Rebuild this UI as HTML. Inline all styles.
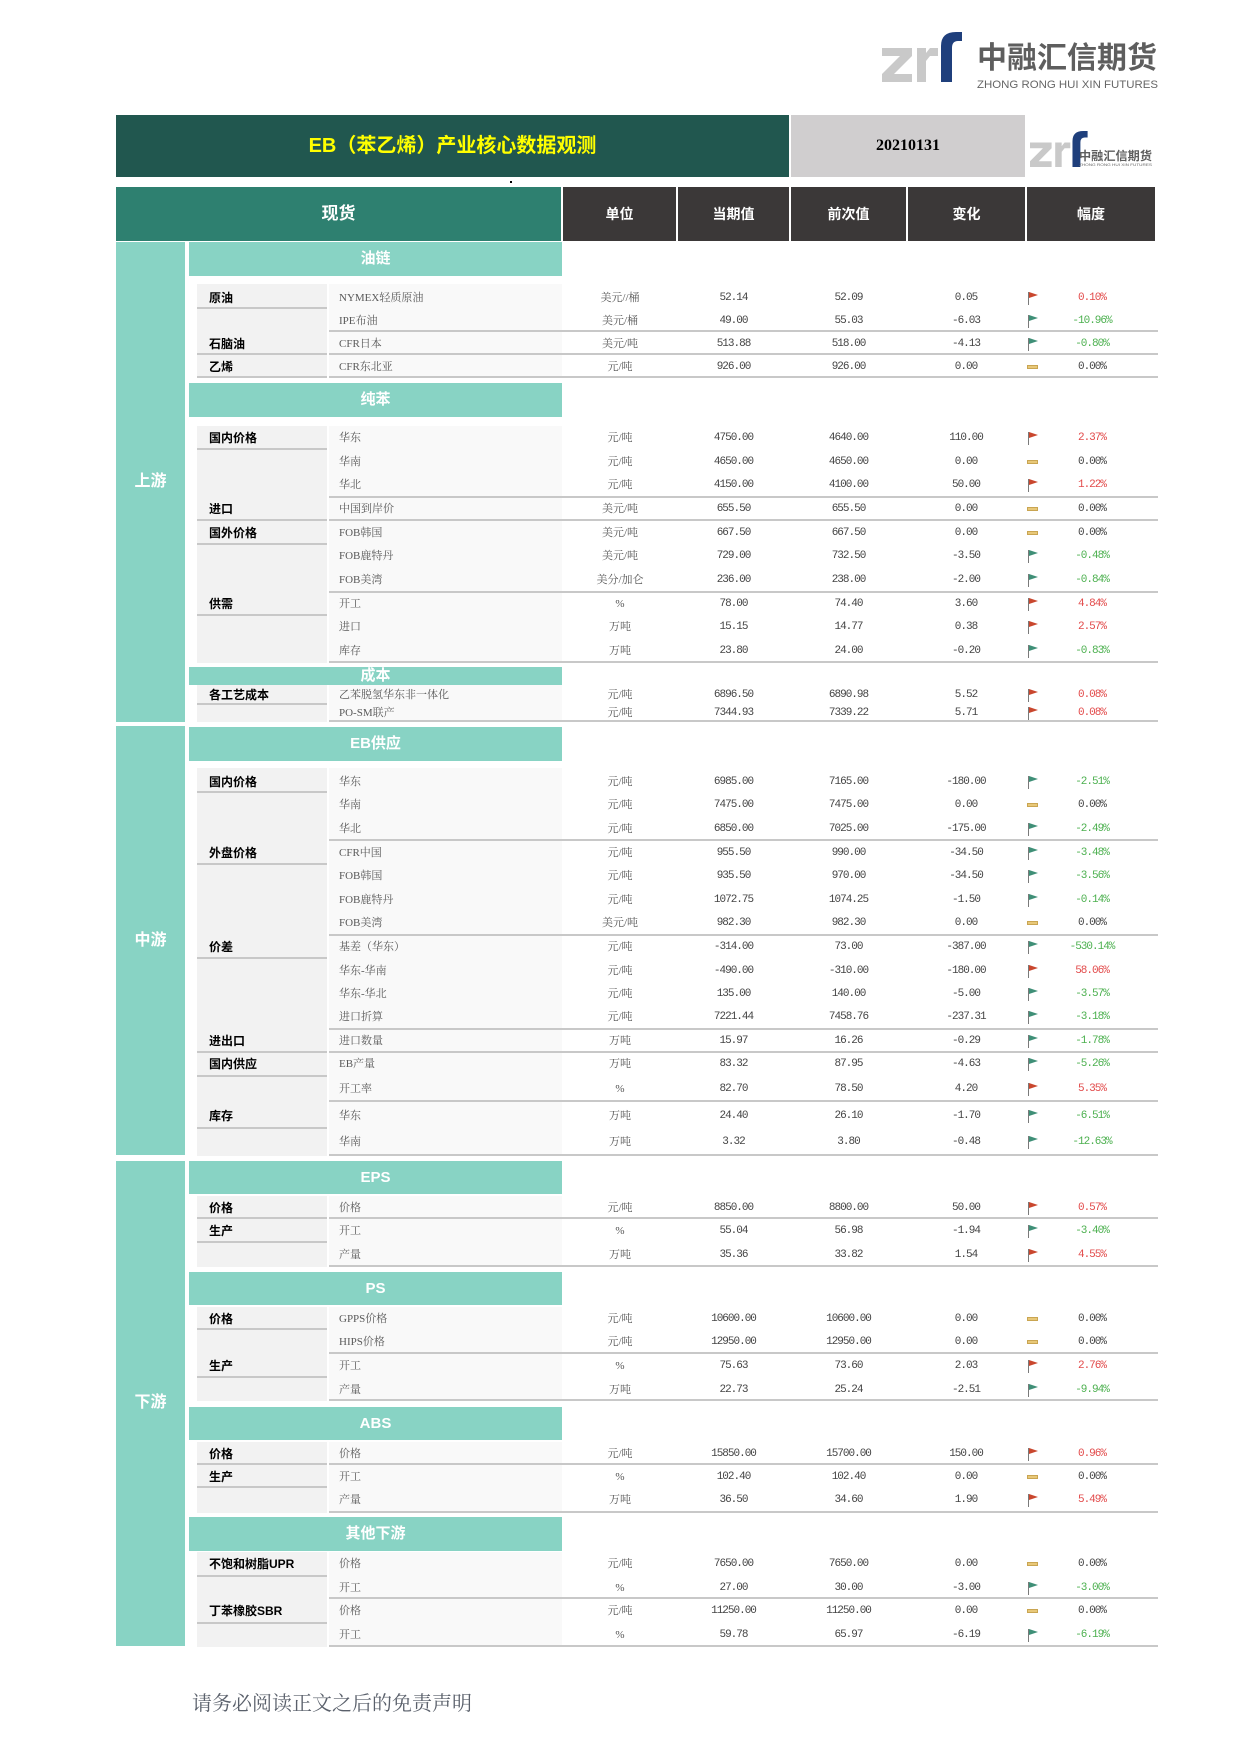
<!DOCTYPE html>
<html><head><meta charset="utf-8">
<style>
*{margin:0;padding:0;box-sizing:border-box}
body{width:1240px;height:1753px;position:relative;background:#fff;overflow:hidden;font-family:"Liberation Serif","Noto Serif CJK SC",serif}
.a{position:absolute}
.r{position:absolute;left:0;width:1240px;height:24px;line-height:24px;font-size:11px;white-space:nowrap}
.r b{position:absolute;font-weight:normal;top:0}
.it{left:339px;color:#595959}
.u{left:564px;width:112px;text-align:center;color:#555}
.c,.p,.d,.pc{font-family:"Liberation Mono","Noto Serif CJK SC",monospace;letter-spacing:-1px;text-align:center;color:#444}
.c{left:677px;width:113px}
.p{left:791px;width:115px}
.d{left:907px;width:118px}
.pc{left:1040px;width:104px}
.r b.pc.up{color:#e24a4a}.r b.pc.dn{color:#4cb04f}
i{position:absolute;left:1028px;top:6px;width:11px;height:13px}
i.up::before,i.dn::before{content:"";position:absolute;left:0;top:0;width:1px;height:13px;background:#7a7a7a}
i.up::after,i.dn::after{content:"";position:absolute;left:1px;top:0;border-left:9px solid #c9472e;border-top:3.5px solid transparent;border-bottom:3.5px solid transparent}
i.dn::after{border-left-color:#3f8f77}
i.z{left:1027px;top:10px;width:11px;height:4px;background:#e8c879;border:1px solid #c9a552}
.g{position:absolute;left:209px;height:24px;line-height:24px;font-size:12px;font-weight:bold;font-family:"Liberation Sans","Noto Sans CJK SC",sans-serif;color:#000;white-space:nowrap}
.gl{position:absolute;left:197px;width:130px;height:2px;background:#c8c8c8}
.dl{position:absolute;left:329px;width:829px;height:2px;background:#c8c8c8}
.gb{position:absolute;left:197px;width:130px;background:#f2f2f2}
.ib{position:absolute;left:329px;width:233px;background:#f9f9f9}
.sh{position:absolute;left:189px;width:373px;background:#88d3c4;color:#fff;font-weight:bold;font-size:15px;text-align:center;font-family:"Liberation Sans","Noto Sans CJK SC",sans-serif}
.bd{position:absolute;left:116px;width:69px;background:#88d3c4}
.bl{position:absolute;left:116px;width:69px;height:24px;line-height:24px;color:#fff;font-size:16px;font-weight:bold;text-align:center;font-family:"Liberation Sans","Noto Sans CJK SC",sans-serif}
.hd{position:absolute;top:187px;height:54px;line-height:54px;background:#3b3838;color:#fff;font-weight:bold;font-size:14px;text-align:center;font-family:"Liberation Sans","Noto Sans CJK SC",sans-serif}
</style></head><body>

<!-- top logo -->
<svg class="a" style="left:0;top:0" width="1240" height="180" viewBox="0 0 1240 180">
  <g id="lg">
    <polygon fill="#c9c9c9" points="882,48 912,48 912,56 894,74 912,74 912,82 882,82 882,74 900,56 882,56"/>
    <polygon fill="#c9c9c9" points="917,48 926,48 926,53 930,48 938,48 938,56 930,56 926,61 926,82 917,82"/>
    <path fill="#1f3f7c" d="M941 82 L941 46 Q941 32 956 32 L962 32 L962 41 L958 41 Q952 41 952 48 L952 82 Z"/>
  </g>
  <text x="977" y="68" font-family="Liberation Sans, Noto Sans CJK SC, sans-serif" font-weight="bold" font-size="30" fill="#5e5e5e" textLength="180" lengthAdjust="spacingAndGlyphs">中融汇信期货</text>
  <text x="977" y="88" font-family="Liberation Sans, sans-serif" font-size="11" fill="#666" textLength="181" lengthAdjust="spacingAndGlyphs">ZHONG RONG HUI XIN FUTURES</text>
  <!-- small logo -->
  <g transform="translate(1030,131) scale(0.72) translate(-882,-32)">
    <polygon fill="#c9c9c9" points="882,48 912,48 912,56 894,74 912,74 912,82 882,82 882,74 900,56 882,56"/>
    <polygon fill="#c9c9c9" points="917,48 926,48 926,53 930,48 938,48 938,56 930,56 926,61 926,82 917,82"/>
    <path fill="#1f3f7c" d="M941 82 L941 46 Q941 32 956 32 L962 32 L962 41 L958 41 Q952 41 952 48 L952 82 Z"/>
  </g>
  <text x="1079" y="160" font-family="Liberation Sans, Noto Sans CJK SC, sans-serif" font-weight="bold" font-size="12" fill="#5e5e5e" textLength="73" lengthAdjust="spacingAndGlyphs">中融汇信期货</text>
  <text x="1079" y="166" font-family="Liberation Sans, sans-serif" font-size="4" fill="#666" textLength="73" lengthAdjust="spacingAndGlyphs">ZHONG RONG HUI XIN FUTURES</text>
</svg>

<!-- title bar -->
<div class="a" style="left:116px;top:115px;width:673px;height:62px;background:#21574f;color:#ffff00;font-size:20px;font-weight:bold;line-height:62px;text-align:center;font-family:'Liberation Sans','Noto Sans CJK SC',sans-serif">EB（苯乙烯）产业核心数据观测</div>
<div class="a" style="left:791px;top:115px;width:234px;height:62px;background:#d0cecf;color:#000;font-size:16px;font-weight:bold;line-height:62px;text-align:center;font-family:'Liberation Serif',serif">20210131</div>
<div class="a" style="left:510px;top:181px;width:2px;height:2px;background:#000"></div>

<!-- header -->
<div class="hd" style="left:116px;width:445px;background:#2e8070;font-size:17px">现货</div>
<div class="hd" style="left:563px;width:113px">单位</div>
<div class="hd" style="left:678px;width:111px">当期值</div>
<div class="hd" style="left:791px;width:115px">前次值</div>
<div class="hd" style="left:908px;width:117px">变化</div>
<div class="hd" style="left:1027px;width:128px">幅度</div>

<!-- bands -->
<div class="bd" style="top:242px;height:480px"></div>
<div class="bd" style="top:726px;height:429px"></div>
<div class="bd" style="top:1161px;height:485px"></div>
<div class="bl" style="top:470px">上游</div>
<div class="bl" style="top:929px">中游</div>
<div class="bl" style="top:1391px">下游</div>

<!-- subheaders -->
<div class="sh" style="top:242px;height:34px;line-height:34px">油链</div>
<div class="sh" style="top:383px;height:34px;line-height:34px">纯苯</div>
<div class="sh" style="top:667px;height:18px;line-height:18px">成本</div>
<div class="sh" style="top:727px;height:34px;line-height:34px">EB供应</div>
<div class="sh" style="top:1161px;height:33px;line-height:33px">EPS</div>
<div class="sh" style="top:1272px;height:33px;line-height:33px">PS</div>
<div class="sh" style="top:1407px;height:33px;line-height:33px">ABS</div>
<div class="sh" style="top:1517px;height:34px;line-height:34px">其他下游</div>

<!-- gray blocks -->
<div class="gb" style="top:284px;height:94px"></div><div class="ib" style="top:284px;height:94px"></div>
<div class="gb" style="top:426px;height:237px"></div><div class="ib" style="top:426px;height:237px"></div>
<div class="gb" style="top:685px;height:37px"></div><div class="ib" style="top:685px;height:37px"></div>
<div class="gb" style="top:768px;height:388px"></div><div class="ib" style="top:768px;height:388px"></div>
<div class="gb" style="top:1196px;height:71px"></div><div class="ib" style="top:1196px;height:71px"></div>
<div class="gb" style="top:1307px;height:94px"></div><div class="ib" style="top:1307px;height:94px"></div>
<div class="gb" style="top:1442px;height:71px"></div><div class="ib" style="top:1442px;height:71px"></div>
<div class="gb" style="top:1552px;height:95px"></div><div class="ib" style="top:1552px;height:95px"></div>

<!-- group underlines -->
<div class="gl" style="top:307px"></div><div class="gl" style="top:353px"></div><div class="gl" style="top:376px"></div>
<div class="gl" style="top:448px"></div><div class="gl" style="top:519px"></div><div class="gl" style="top:543px"></div>
<div class="gl" style="top:614px"></div><div class="gl" style="top:703px"></div>
<div class="gl" style="top:791px"></div><div class="gl" style="top:863px"></div><div class="gl" style="top:957px"></div>
<div class="gl" style="top:1051px"></div><div class="gl" style="top:1075px"></div><div class="gl" style="top:1127px"></div>
<div class="gl" style="top:1217px"></div><div class="gl" style="top:1241px"></div>
<div class="gl" style="top:1328px"></div><div class="gl" style="top:1376px"></div>
<div class="gl" style="top:1463px"></div><div class="gl" style="top:1486px"></div>
<div class="gl" style="top:1575px"></div><div class="gl" style="top:1622px"></div>

<!-- data lines -->
<div class="dl" style="top:330px"></div><div class="dl" style="top:353px"></div><div class="dl" style="top:376px"></div>
<div class="dl" style="top:496px"></div><div class="dl" style="top:519px"></div><div class="dl" style="top:591px"></div>
<div class="dl" style="top:661px"></div><div class="dl" style="top:720px"></div>
<div class="dl" style="top:839px"></div><div class="dl" style="top:934px"></div><div class="dl" style="top:1028px"></div>
<div class="dl" style="top:1051px"></div><div class="dl" style="top:1100px"></div><div class="dl" style="top:1154px"></div>
<div class="dl" style="top:1217px"></div><div class="dl" style="top:1265px"></div>
<div class="dl" style="top:1352px"></div><div class="dl" style="top:1399px"></div>
<div class="dl" style="top:1463px"></div><div class="dl" style="top:1511px"></div>
<div class="dl" style="top:1597px"></div><div class="dl" style="top:1645px"></div>

<!-- group labels -->
<div class="g" style="top:286px">原油</div>
<div class="g" style="top:332px">石脑油</div>
<div class="g" style="top:355px">乙烯</div>
<div class="g" style="top:426px">国内价格</div>
<div class="g" style="top:497px">进口</div>
<div class="g" style="top:521px">国外价格</div>
<div class="g" style="top:592px">供需</div>
<div class="g" style="top:683px">各工艺成本</div>
<div class="g" style="top:770px">国内价格</div>
<div class="g" style="top:841px">外盘价格</div>
<div class="g" style="top:935px">价差</div>
<div class="g" style="top:1029px">进出口</div>
<div class="g" style="top:1052px">国内供应</div>
<div class="g" style="top:1104px">库存</div>
<div class="g" style="top:1196px">价格</div>
<div class="g" style="top:1219px">生产</div>
<div class="g" style="top:1307px">价格</div>
<div class="g" style="top:1354px">生产</div>
<div class="g" style="top:1442px">价格</div>
<div class="g" style="top:1465px">生产</div>
<div class="g" style="top:1552px">不饱和树脂UPR</div>
<div class="g" style="top:1599px">丁苯橡胶SBR</div>

<!-- rows -->
<div class="r" style="top:286px"><b class="it">NYMEX轻质原油</b><b class="u">美元//桶</b><b class="c">52.14</b><b class="p">52.09</b><b class="d">0.05</b><i class="up"></i><b class="pc up">0.10%</b></div>
<div class="r" style="top:308.5px"><b class="it">IPE布油</b><b class="u">美元/桶</b><b class="c">49.00</b><b class="p">55.03</b><b class="d">-6.03</b><i class="dn"></i><b class="pc dn">-10.96%</b></div>
<div class="r" style="top:331.7px"><b class="it">CFR日本</b><b class="u">美元/吨</b><b class="c">513.88</b><b class="p">518.00</b><b class="d">-4.13</b><i class="dn"></i><b class="pc dn">-0.80%</b></div>
<div class="r" style="top:354.7px"><b class="it">CFR东北亚</b><b class="u">元/吨</b><b class="c">926.00</b><b class="p">926.00</b><b class="d">0.00</b><i class="z"></i><b class="pc">0.00%</b></div>

<div class="r" style="top:426.3px"><b class="it">华东</b><b class="u">元/吨</b><b class="c">4750.00</b><b class="p">4640.00</b><b class="d">110.00</b><i class="up"></i><b class="pc up">2.37%</b></div>
<div class="r" style="top:449.7px"><b class="it">华南</b><b class="u">元/吨</b><b class="c">4650.00</b><b class="p">4650.00</b><b class="d">0.00</b><i class="z"></i><b class="pc">0.00%</b></div>
<div class="r" style="top:473.3px"><b class="it">华北</b><b class="u">元/吨</b><b class="c">4150.00</b><b class="p">4100.00</b><b class="d">50.00</b><i class="up"></i><b class="pc up">1.22%</b></div>
<div class="r" style="top:497px"><b class="it">中国到岸价</b><b class="u">美元/吨</b><b class="c">655.50</b><b class="p">655.50</b><b class="d">0.00</b><i class="z"></i><b class="pc">0.00%</b></div>
<div class="r" style="top:520.7px"><b class="it">FOB韩国</b><b class="u">美元/吨</b><b class="c">667.50</b><b class="p">667.50</b><b class="d">0.00</b><i class="z"></i><b class="pc">0.00%</b></div>
<div class="r" style="top:544px"><b class="it">FOB鹿特丹</b><b class="u">美元/吨</b><b class="c">729.00</b><b class="p">732.50</b><b class="d">-3.50</b><i class="dn"></i><b class="pc dn">-0.48%</b></div>
<div class="r" style="top:568px"><b class="it">FOB美湾</b><b class="u">美分/加仑</b><b class="c">236.00</b><b class="p">238.00</b><b class="d">-2.00</b><i class="dn"></i><b class="pc dn">-0.84%</b></div>
<div class="r" style="top:591.7px"><b class="it">开工</b><b class="u">%</b><b class="c">78.00</b><b class="p">74.40</b><b class="d">3.60</b><i class="up"></i><b class="pc up">4.84%</b></div>
<div class="r" style="top:615px"><b class="it">进口</b><b class="u">万吨</b><b class="c">15.15</b><b class="p">14.77</b><b class="d">0.38</b><i class="up"></i><b class="pc up">2.57%</b></div>
<div class="r" style="top:638.7px"><b class="it">库存</b><b class="u">万吨</b><b class="c">23.80</b><b class="p">24.00</b><b class="d">-0.20</b><i class="dn"></i><b class="pc dn">-0.83%</b></div>

<div class="r" style="top:683px"><b class="it">乙苯脱氢华东非一体化</b><b class="u">元/吨</b><b class="c">6896.50</b><b class="p">6890.98</b><b class="d">5.52</b><i class="up"></i><b class="pc up">0.08%</b></div>
<div class="r" style="top:701.3px"><b class="it">PO-SM联产</b><b class="u">元/吨</b><b class="c">7344.93</b><b class="p">7339.22</b><b class="d">5.71</b><i class="up"></i><b class="pc up">0.08%</b></div>

<div class="r" style="top:769.7px"><b class="it">华东</b><b class="u">元/吨</b><b class="c">6985.00</b><b class="p">7165.00</b><b class="d">-180.00</b><i class="dn"></i><b class="pc dn">-2.51%</b></div>
<div class="r" style="top:793.3px"><b class="it">华南</b><b class="u">元/吨</b><b class="c">7475.00</b><b class="p">7475.00</b><b class="d">0.00</b><i class="z"></i><b class="pc">0.00%</b></div>
<div class="r" style="top:817px"><b class="it">华北</b><b class="u">元/吨</b><b class="c">6850.00</b><b class="p">7025.00</b><b class="d">-175.00</b><i class="dn"></i><b class="pc dn">-2.49%</b></div>
<div class="r" style="top:840.7px"><b class="it">CFR中国</b><b class="u">元/吨</b><b class="c">955.50</b><b class="p">990.00</b><b class="d">-34.50</b><i class="dn"></i><b class="pc dn">-3.48%</b></div>
<div class="r" style="top:864px"><b class="it">FOB韩国</b><b class="u">元/吨</b><b class="c">935.50</b><b class="p">970.00</b><b class="d">-34.50</b><i class="dn"></i><b class="pc dn">-3.56%</b></div>
<div class="r" style="top:888px"><b class="it">FOB鹿特丹</b><b class="u">元/吨</b><b class="c">1072.75</b><b class="p">1074.25</b><b class="d">-1.50</b><i class="dn"></i><b class="pc dn">-0.14%</b></div>
<div class="r" style="top:911.3px"><b class="it">FOB美湾</b><b class="u">美元/吨</b><b class="c">982.30</b><b class="p">982.30</b><b class="d">0.00</b><i class="z"></i><b class="pc">0.00%</b></div>
<div class="r" style="top:935px"><b class="it">基差（华东）</b><b class="u">元/吨</b><b class="c">-314.00</b><b class="p">73.00</b><b class="d">-387.00</b><i class="dn"></i><b class="pc dn">-530.14%</b></div>
<div class="r" style="top:958.7px"><b class="it">华东-华南</b><b class="u">元/吨</b><b class="c">-490.00</b><b class="p">-310.00</b><b class="d">-180.00</b><i class="up"></i><b class="pc up">58.06%</b></div>
<div class="r" style="top:982px"><b class="it">华东-华北</b><b class="u">元/吨</b><b class="c">135.00</b><b class="p">140.00</b><b class="d">-5.00</b><i class="dn"></i><b class="pc dn">-3.57%</b></div>
<div class="r" style="top:1005.3px"><b class="it">进口折算</b><b class="u">元/吨</b><b class="c">7221.44</b><b class="p">7458.76</b><b class="d">-237.31</b><i class="dn"></i><b class="pc dn">-3.18%</b></div>
<div class="r" style="top:1029px"><b class="it">进口数量</b><b class="u">万吨</b><b class="c">15.97</b><b class="p">16.26</b><b class="d">-0.29</b><i class="dn"></i><b class="pc dn">-1.78%</b></div>
<div class="r" style="top:1052.3px"><b class="it">EB产量</b><b class="u">万吨</b><b class="c">83.32</b><b class="p">87.95</b><b class="d">-4.63</b><i class="dn"></i><b class="pc dn">-5.26%</b></div>
<div class="r" style="top:1077.3px"><b class="it">开工率</b><b class="u">%</b><b class="c">82.70</b><b class="p">78.50</b><b class="d">4.20</b><i class="up"></i><b class="pc up">5.35%</b></div>
<div class="r" style="top:1104px"><b class="it">华东</b><b class="u">万吨</b><b class="c">24.40</b><b class="p">26.10</b><b class="d">-1.70</b><i class="dn"></i><b class="pc dn">-6.51%</b></div>
<div class="r" style="top:1130.3px"><b class="it">华南</b><b class="u">万吨</b><b class="c">3.32</b><b class="p">3.80</b><b class="d">-0.48</b><i class="dn"></i><b class="pc dn">-12.63%</b></div>

<div class="r" style="top:1196px"><b class="it">价格</b><b class="u">元/吨</b><b class="c">8850.00</b><b class="p">8800.00</b><b class="d">50.00</b><i class="up"></i><b class="pc up">0.57%</b></div>
<div class="r" style="top:1219.3px"><b class="it">开工</b><b class="u">%</b><b class="c">55.04</b><b class="p">56.98</b><b class="d">-1.94</b><i class="dn"></i><b class="pc dn">-3.40%</b></div>
<div class="r" style="top:1243px"><b class="it">产量</b><b class="u">万吨</b><b class="c">35.36</b><b class="p">33.82</b><b class="d">1.54</b><i class="up"></i><b class="pc up">4.55%</b></div>

<div class="r" style="top:1306.7px"><b class="it">GPPS价格</b><b class="u">元/吨</b><b class="c">10600.00</b><b class="p">10600.00</b><b class="d">0.00</b><i class="z"></i><b class="pc">0.00%</b></div>
<div class="r" style="top:1330.3px"><b class="it">HIPS价格</b><b class="u">元/吨</b><b class="c">12950.00</b><b class="p">12950.00</b><b class="d">0.00</b><i class="z"></i><b class="pc">0.00%</b></div>
<div class="r" style="top:1353.7px"><b class="it">开工</b><b class="u">%</b><b class="c">75.63</b><b class="p">73.60</b><b class="d">2.03</b><i class="up"></i><b class="pc up">2.76%</b></div>
<div class="r" style="top:1377.7px"><b class="it">产量</b><b class="u">万吨</b><b class="c">22.73</b><b class="p">25.24</b><b class="d">-2.51</b><i class="dn"></i><b class="pc dn">-9.94%</b></div>

<div class="r" style="top:1441.7px"><b class="it">价格</b><b class="u">元/吨</b><b class="c">15850.00</b><b class="p">15700.00</b><b class="d">150.00</b><i class="up"></i><b class="pc up">0.96%</b></div>
<div class="r" style="top:1464.7px"><b class="it">开工</b><b class="u">%</b><b class="c">102.40</b><b class="p">102.40</b><b class="d">0.00</b><i class="z"></i><b class="pc">0.00%</b></div>
<div class="r" style="top:1488.3px"><b class="it">产量</b><b class="u">万吨</b><b class="c">36.50</b><b class="p">34.60</b><b class="d">1.90</b><i class="up"></i><b class="pc up">5.49%</b></div>

<div class="r" style="top:1552px"><b class="it">价格</b><b class="u">元/吨</b><b class="c">7650.00</b><b class="p">7650.00</b><b class="d">0.00</b><i class="z"></i><b class="pc">0.00%</b></div>
<div class="r" style="top:1575.7px"><b class="it">开工</b><b class="u">%</b><b class="c">27.00</b><b class="p">30.00</b><b class="d">-3.00</b><i class="dn"></i><b class="pc dn">-3.00%</b></div>
<div class="r" style="top:1599.3px"><b class="it">价格</b><b class="u">元/吨</b><b class="c">11250.00</b><b class="p">11250.00</b><b class="d">0.00</b><i class="z"></i><b class="pc">0.00%</b></div>
<div class="r" style="top:1623px"><b class="it">开工</b><b class="u">%</b><b class="c">59.78</b><b class="p">65.97</b><b class="d">-6.19</b><i class="dn"></i><b class="pc dn">-6.19%</b></div>

<!-- footer -->
<div class="a" style="left:192px;top:1690px;height:28px;line-height:28px;font-size:20px;color:#5a606b;font-family:'Liberation Serif','Noto Serif CJK SC',serif;white-space:nowrap">请务必阅读正文之后的免责声明</div>

</body></html>
